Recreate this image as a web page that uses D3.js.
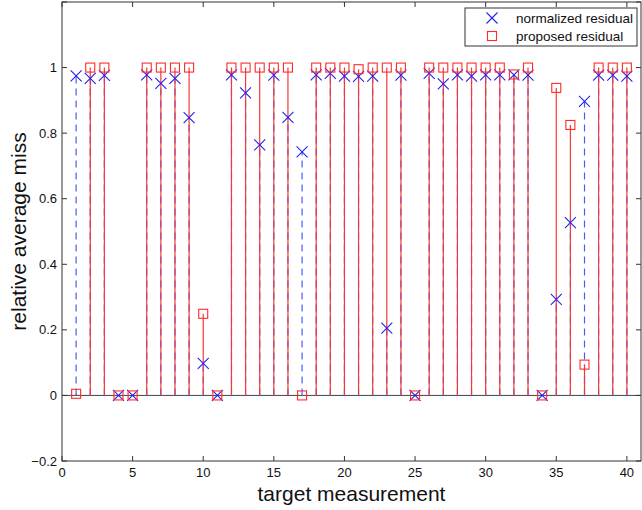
<!DOCTYPE html>
<html><head><meta charset="utf-8">
<script src="https://cdn.jsdelivr.net/npm/d3@7"></script>
<style>body{margin:0;background:#fff}svg{display:block;font-family:"Liberation Sans",Arial,Helvetica,sans-serif}</style>
</head><body><svg id="c" width="642" height="510"></svg>
<script>
const measurements = d3.range(1, 41);
const normalizedResidual = [0.975,0.967,0.976,0,0,0.978,0.952,0.967,0.847,0.098,0,0.978,0.923,0.764,0.977,0.848,0.743,0.978,0.982,0.974,0.973,0.974,0.205,0.977,0,0.982,0.95,0.978,0.974,0.978,0.978,0.978,0.977,0,0.293,0.527,0.897,0.977,0.977,0.974];
const proposedResidual = [0.005,1,1,0,0,1,1,1,1,0.249,0,1,1,1,1,1,0,1,1,1,0.995,1,1,1,0,1,1,1,1,1,1,0.979,1,0,0.938,0.825,0.094,1,1,1];
const xTicks = [0,5,10,15,20,25,30,35,40];
const yTicks = [-0.2,0,0.2,0.4,0.6,0.8,1];
const seriesNames = ["normalized residual","proposed residual"];

const svg = d3.select("#c");
const L=62, R=641, T=2, B=461;
const x = d3.scaleLinear().domain([0,41]).range([L,R]);
const y = d3.scaleLinear().domain([-0.2,1.2]).range([B,T]);
const blue="#2222ee", red="#ff2a2a", axisCol="#333";

// zero baseline
svg.append("line").attr("x1",L).attr("x2",R).attr("y1",y(0)).attr("y2",y(0)).attr("stroke","#444").attr("stroke-width",1);

// blue dashed stems
svg.append("g").selectAll("line").data(measurements).join("line")
  .attr("x1",d=>x(d)).attr("x2",d=>x(d)).attr("y1",y(0)).attr("y2",(d,i)=>y(normalizedResidual[i]))
  .attr("stroke","#4a5ef0").attr("stroke-width",1.2).attr("stroke-dasharray","7,5");
// red solid stems
svg.append("g").selectAll("line").data(measurements).join("line")
  .attr("x1",d=>x(d)).attr("x2",d=>x(d)).attr("y1",y(0)).attr("y2",(d,i)=>y(proposedResidual[i]))
  .attr("stroke","#f03a3a").attr("stroke-width",1.2);

function xMark(g,cx,cy,s){
  g.append("path").attr("d",`M${cx-s},${cy-s}L${cx+s},${cy+s}M${cx-s},${cy+s}L${cx+s},${cy-s}`)
   .attr("stroke",blue).attr("stroke-width",1.1).attr("fill","none");
}
function sqMark(g,cx,cy,s){
  g.append("rect").attr("x",cx-s).attr("y",cy-s).attr("width",2*s).attr("height",2*s)
   .attr("stroke",red).attr("stroke-width",1.1).attr("fill","none");
}
const gm = svg.append("g");
measurements.forEach((d,i)=>xMark(gm,x(d),y(normalizedResidual[i]),5.5));
measurements.forEach((d,i)=>sqMark(gm,x(d),y(proposedResidual[i]),4.5));

// axes box
svg.append("rect").attr("x",L).attr("y",T).attr("width",R-L).attr("height",B-T).attr("fill","none").attr("stroke",axisCol).attr("stroke-width",1);

// ticks (inward) on all sides
const tk=5;
const gt = svg.append("g").attr("stroke",axisCol).attr("stroke-width",1);
xTicks.forEach(v=>{
  gt.append("line").attr("x1",x(v)).attr("x2",x(v)).attr("y1",B).attr("y2",B-tk);
  gt.append("line").attr("x1",x(v)).attr("x2",x(v)).attr("y1",T).attr("y2",T+tk);
});
yTicks.concat([1.2]).forEach(v=>{
  gt.append("line").attr("x1",L).attr("x2",L+tk).attr("y1",y(v)).attr("y2",y(v));
  gt.append("line").attr("x1",R).attr("x2",R-tk).attr("y1",y(v)).attr("y2",y(v));
});
// tick labels
svg.append("g").selectAll("text").data(xTicks).join("text")
  .attr("x",d=>x(d)).attr("y",B+16).attr("text-anchor","middle").attr("font-size",13).attr("fill","#111").text(d=>d);
svg.append("g").selectAll("text").data(yTicks).join("text")
  .attr("x",L-5).attr("y",d=>y(d)+4.5).attr("text-anchor","end").attr("font-size",13).attr("fill","#111")
  .text(d=>(d<0?"\u2212":"")+String(Math.round(Math.abs(d)*10)/10));

// axis titles
svg.append("text").attr("x",(L+R)/2).attr("y",501).attr("text-anchor","middle").attr("font-size",21).attr("fill","#111").text("target measurement");
svg.append("text").attr("transform",`translate(26,${(T+B)/2}) rotate(-90)`).attr("text-anchor","middle").attr("font-size",21).attr("fill","#111").text("relative average miss");

// legend
const lg = svg.append("g");
lg.append("rect").attr("x",465).attr("y",8).attr("width",172).attr("height",38).attr("fill","#fff").attr("stroke",axisCol).attr("stroke-width",1);
xMark(lg,492,18,5.5);
sqMark(lg,492,36,4.5);
lg.selectAll("text").data(seriesNames).join("text")
  .attr("x",516).attr("y",(d,i)=>23+i*18).attr("font-size",13.5).attr("fill","#111").text(d=>d);
</script></body></html>
